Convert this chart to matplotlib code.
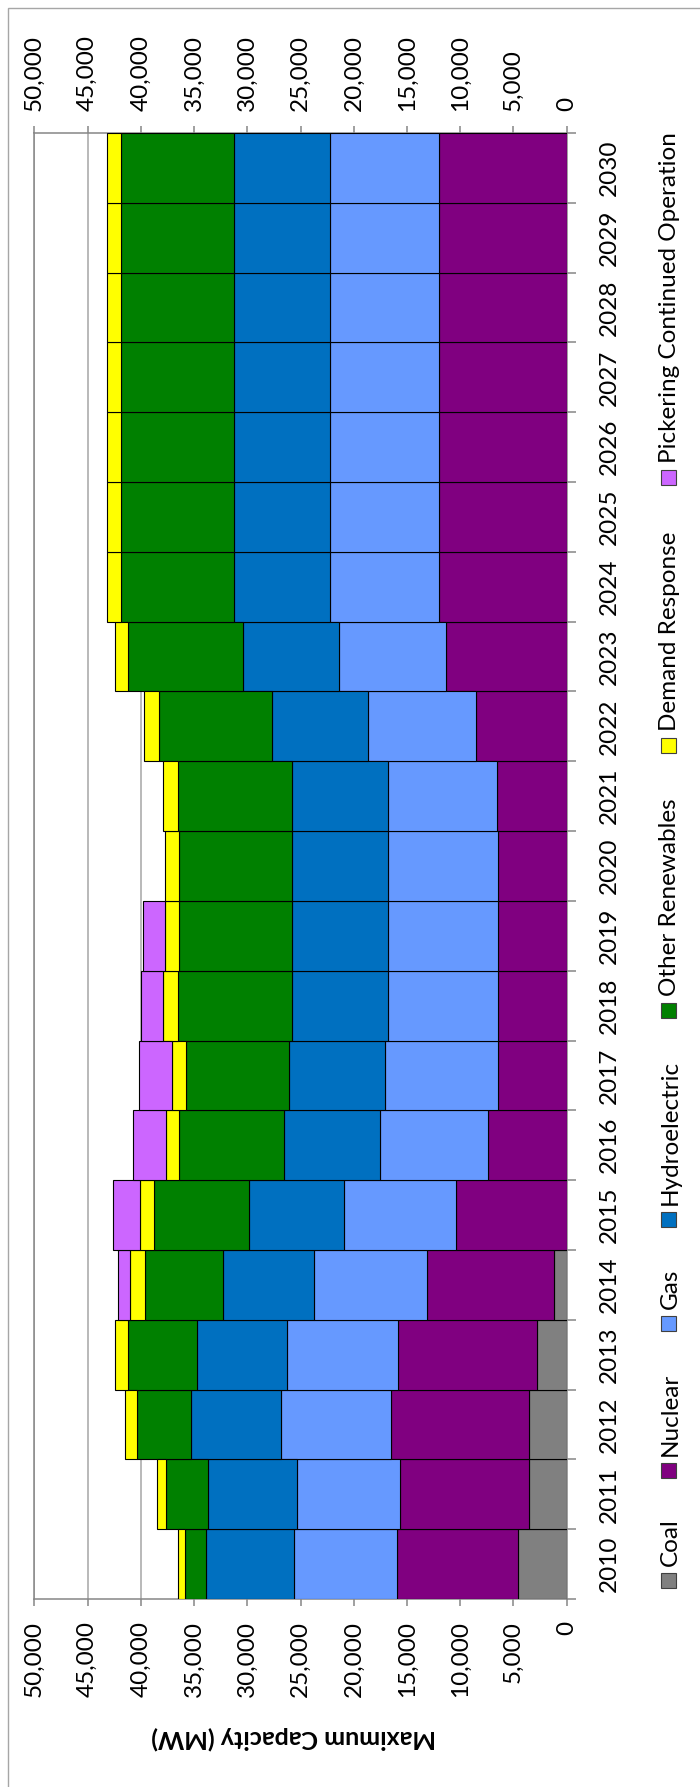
import matplotlib
matplotlib.use('Agg')
import matplotlib.pyplot as plt
from matplotlib.patches import Rectangle
from matplotlib.ticker import FuncFormatter, MultipleLocator
import numpy as np

# ---------------- data ----------------
years = [str(y) for y in range(2010, 2031)]
coal = [4530, 3520, 3530, 2830, 1200, 0, 0, 0, 0, 0, 0, 0, 0, 0, 0, 0, 0, 0, 0, 0, 0]
nuclear = [11410, 12170, 12960, 13000, 11890, 10370, 7360, 6420, 6420, 6420, 6420,
           6580, 8550, 11340, 12000, 12000, 12000, 12000, 12000, 12000, 12000]
gas = [9690, 9610, 10320, 10450, 10610, 10550, 10210, 10620, 10370, 10370, 10330,
       10180, 10120, 10020, 10200, 10200, 10200, 10200, 10200, 10200, 10200]
hydro = [8265, 8350, 8520, 8470, 8600, 8925, 9020, 9020, 8980, 8980, 9020,
         9020, 8990, 9020, 9050, 9050, 9050, 9050, 9050, 9050, 9050]
other_renewables = [1970, 3985, 4990, 6420, 7300, 8890, 9830, 9650, 10745, 10650, 10650,
                    10745, 10650, 10775, 10580, 10580, 10580, 10580, 10580, 10580, 10580]
demand_response = [630, 840, 1130, 1220, 1410, 1350, 1190, 1350, 1380, 1350, 1280,
                   1345, 1350, 1220, 1370, 1370, 1370, 1370, 1370, 1370, 1370]
pickering = [0, 0, 0, 0, 1100, 2570, 3160, 3130, 2100, 2040, 0,
             0, 0, 0, 0, 0, 0, 0, 0, 0, 0]

series_names = ['Coal', 'Nuclear', 'Gas', 'Hydroelectric', 'Other Renewables',
                'Demand Response', 'Pickering Continued Operation']
series = [coal, nuclear, gas, hydro, other_renewables, demand_response, pickering]
colors = ['#808080', '#800080', '#6699FF', '#0070C0', '#008000', '#FFFF00', '#CC66FF']

# ---------------- layout ----------------
W, H = 700, 1787
plt.rcParams['font.family'] = ['Lato', 'DejaVu Sans']
FS = 17.5
AXC = '#868686'

fig = plt.figure(figsize=(W / 100, H / 100), dpi=100)
px_left, px_right, px_top, px_bottom = 34.3, 566.7, 133, 1599
ax = fig.add_axes([px_left / W, 1 - px_bottom / H,
                   (px_right - px_left) / W, (px_bottom - px_top) / H])

y = np.arange(len(years))
left = np.zeros(len(years))
for vals, c in zip(series, colors):
    v = np.array(vals, dtype=float)
    m = v > 0
    ax.barh(y[m], v[m], left=left[m], height=1.0, color=c,
            edgecolor='black', linewidth=0.8, zorder=3)
    left += v

ax.set_xlim(50000, 0)
ax.set_ylim(-0.5, len(years) - 0.5)
ax.xaxis.set_major_locator(MultipleLocator(5000))
ax.xaxis.set_major_formatter(FuncFormatter(lambda v, p: f'{int(round(v)):,}'))
ax.grid(axis='x', color='#a6a6a6', linewidth=1.1, zorder=0)
ax.grid(axis='y', visible=False)
ax.set_axisbelow(True)
ax.tick_params(axis='x', which='major', top=True, bottom=True,
               labeltop=True, labelbottom=True, length=5, width=1.1,
               color=AXC, labelsize=FS, pad=11, labelrotation=90)

ax.yaxis.tick_right()
ax.set_yticks(y)
ax.set_yticklabels(years, rotation=90, va='center')
ax.set_yticks(np.arange(-0.5, len(years)), minor=True)
ax.tick_params(axis='y', which='major', length=0, pad=23, labelsize=FS,
               right=True, left=False)
ax.tick_params(axis='y', which='minor', length=6.5, width=1.1, color=AXC,
               right=True, left=False)
for s in ax.spines.values():
    s.set_color(AXC)
    s.set_linewidth(1.1)

# chart border
fig.add_artist(Rectangle((8 / W, -0.01), 1.0, 1 - 8 / H + 0.01,
                         transform=fig.transFigure, fill=False,
                         edgecolor='#a6a6a6', linewidth=1.0))

# axis title (rotated with the chart)
fig.text(294 / W, 1 - 1738 / H, 'Maximum Capacity (MW)', rotation=180,
         ha='center', va='center', fontsize=18, fontweight='bold')

# legend (drawn manually, rotated with the chart)
legend_marker_bottom = [1588, 1478, 1331, 1227, 1018, 753, 485]
msz = 15
for name, c, yb in zip(series_names, colors, legend_marker_bottom):
    fig.add_artist(Rectangle((661 / W, 1 - yb / H), msz / W, msz / H,
                             transform=fig.transFigure, facecolor=c,
                             edgecolor='#404040', linewidth=0.8))
    fig.text(670 / W, 1 - (yb - msz - 7) / H, name, rotation=90,
             ha='center', va='bottom', fontsize=FS)

fig.savefig('out.png', dpi=100)
